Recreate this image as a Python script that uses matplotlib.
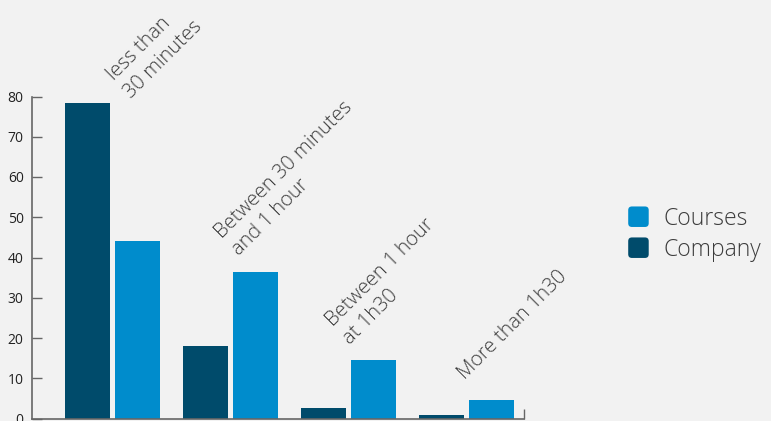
import matplotlib
matplotlib.use("Agg")
import matplotlib.pyplot as plt
import numpy as np
from matplotlib.patches import Patch, FancyBboxPatch
from matplotlib.legend_handler import HandlerPatch

categories = ["less than\n30 minutes", "Between 30 minutes\nand 1 hour",
              "Between 1 hour\nat 1h30", "More than 1h30"]
company = [78.5, 18, 2.7, 0.8]
courses = [44.1, 36.4, 14.5, 4.7]
yticks = [0, 10, 20, 30, 40, 50, 60, 70, 80]

c_company = "#004b6b"
c_courses = "#008ccc"
bg = "#f2f2f2"

fig = plt.figure(figsize=(7.71, 4.21), dpi=100, facecolor=bg)
ax = fig.add_axes([32/771, 1-418.5/421, (524-32)/771, (418.5-96.5)/421])
ax.set_facecolor(bg)

x = np.arange(len(categories))
w = 45/118
off = 25/118
ax.bar(x - off, company, width=w, color=c_company, label="Company", zorder=2)
ax.bar(x + off, courses, width=w, color=c_courses, label="Courses", zorder=2)

ax.set_ylim(0, 80)
ax.set_xlim((32-112.5)/118, (524-112.5)/118)
ax.set_yticks(yticks)
ax.set_yticklabels([str(t) for t in yticks], fontfamily="Open Sans", fontsize=10, color="#222")
ax.tick_params(axis="y", direction="in", length=7, width=1, color="#666", pad=6)
ax.set_xticks([ax.get_xlim()[1]])
ax.set_xticklabels([""])
ax.tick_params(axis="x", direction="in", length=7, width=1, color="#666")
for s in ["top", "right"]:
    ax.spines[s].set_visible(False)
for s in ["left", "bottom"]:
    ax.spines[s].set_color("#666")
    ax.spines[s].set_linewidth(1.2)

# rotated category labels above each group
offsets = [(22.5, 0), (12.5, 12), (5.5, 12), (2, 16)]
for i, lab in enumerate(categories):
    top = max(company[i], courses[i])
    dx, dy = offsets[i]
    ax.annotate(lab, xy=(x[i], top), xytext=(dx, dy), textcoords="offset pixels",
                rotation=45, rotation_mode="anchor", ha="left", va="bottom",
                fontsize=14.5, fontfamily="Open Sans", fontweight="light", color="#3c3c3c",
                multialignment="left", linespacing=1.35, annotation_clip=False)


class RoundHandler(HandlerPatch):
    def create_artists(self, legend, orig_handle, xdescent, ydescent, width, height, fontsize, trans):
        s = min(width, height)
        p = FancyBboxPatch((-xdescent + (width - s)/2, -ydescent + (height - s)/2), s, s,
                           boxstyle="round,pad=0,rounding_size=%f" % (s*0.18),
                           facecolor=orig_handle.get_facecolor(), edgecolor="none",
                           transform=trans)
        return [p]


handles = [Patch(color=c_courses, label="Courses"), Patch(color=c_company, label="Company")]
leg = fig.legend(handles=handles, loc="center left", bbox_to_anchor=(627/771, 1-234/421),
                 frameon=False, prop={"family": "Open Sans", "weight": "light", "size": 16.5},
                 handler_map={Patch: RoundHandler()}, handlelength=1.0, handleheight=1.0,
                 handletextpad=0.6, labelspacing=0.3, borderpad=0, borderaxespad=0)
for t in leg.get_texts():
    t.set_color("#3c3c3c")

fig.savefig("out.png", dpi=100, facecolor=bg)
